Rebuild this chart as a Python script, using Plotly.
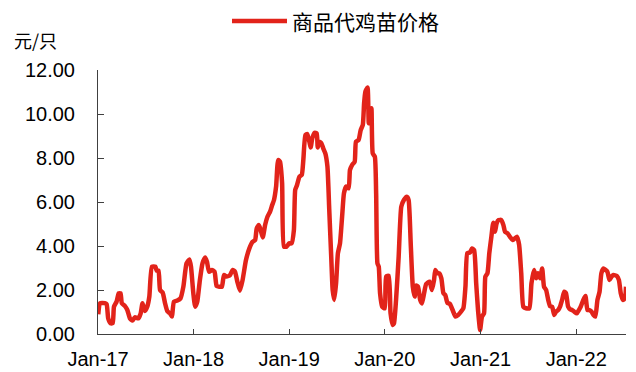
import plotly.graph_objects as go

# Weekly commercial chick price (yuan per bird)
dates = [
    "2017-01-02", "2017-01-09", "2017-01-27", "2017-02-03", "2017-02-09", "2017-02-18", "2017-02-26",
    "2017-03-03", "2017-03-13", "2017-03-21", "2017-03-28", "2017-04-02", "2017-04-14", "2017-04-23",
    "2017-05-03", "2017-05-13", "2017-05-22", "2017-06-04", "2017-06-13", "2017-06-20", "2017-06-29",
    "2017-07-08", "2017-07-16", "2017-07-26", "2017-08-08", "2017-08-13", "2017-08-20", "2017-08-26",
    "2017-09-05", "2017-09-14", "2017-09-23", "2017-10-03", "2017-10-10", "2017-10-18", "2017-10-31",
    "2017-11-12", "2017-11-23", "2017-12-05", "2017-12-16", "2017-12-22", "2017-12-31",
    "2018-01-07", "2018-01-15", "2018-01-25", "2018-02-04", "2018-02-14", "2018-02-21", "2018-03-01",
    "2018-03-12", "2018-03-22", "2018-03-30", "2018-04-09", "2018-04-19", "2018-04-27", "2018-05-07",
    "2018-05-20", "2018-05-30", "2018-06-08", "2018-06-17", "2018-06-27", "2018-07-07", "2018-07-20",
    "2018-08-02", "2018-08-15", "2018-08-24", "2018-08-30", "2018-09-07", "2018-09-14", "2018-09-22",
    "2018-10-01", "2018-10-10", "2018-10-20", "2018-10-28", "2018-11-04", "2018-11-12", "2018-11-20",
    "2018-11-27", "2018-12-05", "2018-12-12", "2018-12-22",
    "2019-01-01", "2019-01-10", "2019-01-19", "2019-01-24", "2019-01-31", "2019-02-09", "2019-02-18",
    "2019-02-24", "2019-03-04", "2019-03-11", "2019-03-19", "2019-03-24", "2019-03-30", "2019-04-08",
    "2019-04-16", "2019-04-20", "2019-04-26", "2019-05-04", "2019-05-11", "2019-05-19", "2019-05-27",
    "2019-06-03", "2019-06-11", "2019-06-16", "2019-06-22", "2019-06-29", "2019-07-06", "2019-07-14",
    "2019-07-22", "2019-07-29", "2019-08-06", "2019-08-16", "2019-08-21", "2019-08-29", "2019-09-08",
    "2019-09-13", "2019-09-23", "2019-10-01", "2019-10-09", "2019-10-14", "2019-10-19", "2019-10-27",
    "2019-11-01", "2019-11-06", "2019-11-11", "2019-11-16", "2019-11-24", "2019-11-29", "2019-12-04",
    "2019-12-09", "2019-12-14", "2019-12-22",
    "2020-01-01", "2020-01-06", "2020-01-16", "2020-01-23", "2020-01-31", "2020-02-05", "2020-02-13",
    "2020-02-23", "2020-03-04", "2020-03-14", "2020-03-25", "2020-04-01", "2020-04-09", "2020-04-17",
    "2020-04-24", "2020-04-30", "2020-05-07", "2020-05-15", "2020-05-22", "2020-05-30", "2020-06-07",
    "2020-06-20", "2020-06-29", "2020-07-07", "2020-07-12", "2020-07-20", "2020-07-27", "2020-08-04",
    "2020-08-12", "2020-08-19", "2020-08-27", "2020-09-06", "2020-09-16", "2020-09-27", "2020-10-07",
    "2020-10-17", "2020-10-27", "2020-11-04", "2020-11-11", "2020-11-21", "2020-11-29", "2020-12-07",
    "2020-12-15", "2020-12-22", "2020-12-30",
    "2021-01-06", "2021-01-14", "2021-01-19", "2021-01-27", "2021-02-03", "2021-02-11", "2021-02-18",
    "2021-02-25", "2021-03-03", "2021-03-11", "2021-03-21", "2021-03-29", "2021-04-04", "2021-04-13",
    "2021-04-23", "2021-05-03", "2021-05-12", "2021-05-20", "2021-05-28", "2021-06-05", "2021-06-13",
    "2021-06-23", "2021-07-06", "2021-07-14", "2021-07-24", "2021-08-01", "2021-08-08", "2021-08-16",
    "2021-08-24", "2021-08-31", "2021-09-08", "2021-09-16", "2021-09-23", "2021-10-01", "2021-10-09",
    "2021-10-16", "2021-10-24", "2021-11-01", "2021-11-08", "2021-11-16", "2021-11-23", "2021-12-01",
    "2021-12-09", "2021-12-16", "2021-12-24",
    "2022-01-03", "2022-01-11", "2022-01-18", "2022-01-28", "2022-02-05", "2022-02-13", "2022-02-20",
    "2022-02-28", "2022-03-08", "2022-03-15", "2022-03-23", "2022-03-31", "2022-04-07", "2022-04-15",
    "2022-04-23", "2022-04-30", "2022-05-08", "2022-05-16", "2022-05-23", "2022-06-05", "2022-06-13",
    "2022-06-20", "2022-06-28", "2022-07-06", "2022-07-10",
]

prices = [
    0.90, 1.40, 1.40, 1.35, 0.71, 0.49, 0.49,
    1.24, 1.47, 1.85, 1.85, 1.40, 1.27, 1.09,
    0.71, 0.61, 0.76, 0.71, 0.94, 1.40, 1.05,
    1.24, 1.70, 3.06, 3.06, 2.88, 2.88, 2.00,
    1.88, 1.40, 1.03, 0.94, 0.79, 1.47, 1.52,
    1.62, 2.15, 3.21, 3.39, 3.06, 1.85,
    1.24, 1.47, 2.45, 3.21, 3.48, 3.29, 2.83,
    2.91, 2.83, 2.18, 2.15, 2.15, 2.68, 2.61,
    2.68, 2.91, 2.83, 2.38, 1.97, 2.45, 3.36,
    3.89, 4.20, 4.27, 4.80, 4.95, 4.73, 4.39,
    4.95, 5.33, 5.56, 5.86, 6.09, 6.70, 7.91,
    7.83, 6.85, 3.97, 3.97,
    4.12, 4.12, 4.73, 6.55, 6.77, 7.15, 7.23,
    7.91, 9.05, 9.09, 8.74, 8.48, 8.89, 9.15,
    9.12, 8.48, 8.74, 8.67, 8.44, 8.21, 7.61,
    5.64, 3.36, 2.00, 1.55, 2.30, 3.67, 4.12,
    5.33, 6.39, 6.70, 6.62, 7.45, 7.68, 7.83,
    8.74, 8.82, 9.27, 9.50, 10.49, 11.02, 11.21,
    9.58, 9.88, 10.26, 8.21, 8.06, 6.39, 3.21,
    3.06, 1.85, 1.24,
    1.17, 2.61, 2.64, 0.94, 0.41, 0.48, 1.55,
    3.52, 5.79, 6.09, 6.24, 6.09, 4.12, 2.15,
    1.70, 2.20, 2.15, 1.55, 1.39, 1.85, 2.27,
    2.38, 2.00, 2.45, 2.91, 2.76, 2.76, 2.53,
    1.85, 1.77, 1.42, 1.36, 1.09, 0.79, 0.86,
    1.00, 1.17, 2.15, 3.67, 3.70, 3.89, 3.82,
    2.30, 1.09, 0.18,
    0.79, 0.94, 2.61, 2.76, 3.67, 4.42, 5.06,
    4.65, 5.03, 5.18, 5.18, 4.95, 4.65, 4.58,
    4.42, 4.27, 4.35, 4.42, 4.05, 2.76, 1.24,
    1.17, 1.17, 2.30, 2.91, 2.53, 2.76, 2.53,
    2.98, 2.15, 2.00, 1.55, 1.27, 1.24, 0.86,
    1.02, 1.09, 1.27, 1.55, 1.92, 1.85, 1.24,
    1.12, 1.09, 1.02,
    0.94, 1.09, 1.24, 1.55, 1.73, 1.09, 1.09,
    1.02, 0.86, 0.79, 1.55, 1.92, 2.76, 2.98,
    2.91, 2.83, 2.45, 2.61, 2.68, 2.64, 2.45,
    1.85, 1.55, 1.62, 2.15,
]

series_name = "商品代鸡苗价格"
unit_label = "元/只"
y_ticks = [0, 2, 4, 6, 8, 10, 12]
x_ticks = ["2017-01-01", "2018-01-01", "2019-01-01", "2020-01-01", "2021-01-01", "2022-01-01"]
x_tick_text = ["Jan-17", "Jan-18", "Jan-19", "Jan-20", "Jan-21", "Jan-22"]

RED = "#E2231A"
AXIS = "#404040"
NUM_FONT = "Liberation Sans, Arial, sans-serif"
CJK_FONT = "Noto Sans CJK SC, sans-serif"

fig = go.Figure()
fig.add_trace(go.Scatter(
    x=dates, y=prices, mode="lines", name=series_name,
    line=dict(color=RED, width=4.5, shape="spline", smoothing=0.5),
    showlegend=False,
))

fig.update_layout(
    width=636, height=372,
    margin=dict(l=98, r=10, t=70, b=38),
    paper_bgcolor="white", plot_bgcolor="white",
    font=dict(family=NUM_FONT, size=20, color="#000000"),
)

fig.update_xaxes(
    type="date", range=["2017-01-01", "2022-07-10"],
    tickvals=x_ticks, ticktext=x_tick_text,
    ticks="inside", ticklen=5, tickwidth=1, tickcolor=AXIS,
    showline=True, linecolor=AXIS, linewidth=1,
    showgrid=False, zeroline=False, automargin=False,
    tickfont=dict(family=NUM_FONT, size=20, color="#000000"),
    ticklabelstandoff=7,
)
fig.update_yaxes(
    range=[0, 12], tickvals=y_ticks, tickformat=".2f",
    ticks="inside", ticklen=6, tickwidth=1, tickcolor=AXIS,
    showline=True, linecolor=AXIS, linewidth=1,
    showgrid=False, zeroline=False, automargin=False,
    tickfont=dict(family=NUM_FONT, size=20, color="#000000"),
    ticklabelstandoff=18,
)

# Legend swatch and label drawn at the top centre
fig.add_shape(type="line", xref="paper", yref="paper",
              x0=(232 - 98) / 528, x1=(287 - 98) / 528,
              y0=1 + 49 / 264, y1=1 + 49 / 264,
              line=dict(color=RED, width=4.5))
fig.add_annotation(text=series_name, xref="paper", yref="paper",
                   x=(290 - 98) / 528, y=1 + 49 / 264,
                   xanchor="left", yanchor="middle", showarrow=False,
                   font=dict(family=CJK_FONT, size=21, color="#000000"))
# Unit label above the y axis
fig.add_annotation(text=unit_label, xref="paper", yref="paper",
                   x=-(98 - 12) / 528, y=1 + 30 / 264,
                   xanchor="left", yanchor="middle", showarrow=False,
                   font=dict(family=CJK_FONT, size=18, color="#000000"))

fig.write_html("out.html")
